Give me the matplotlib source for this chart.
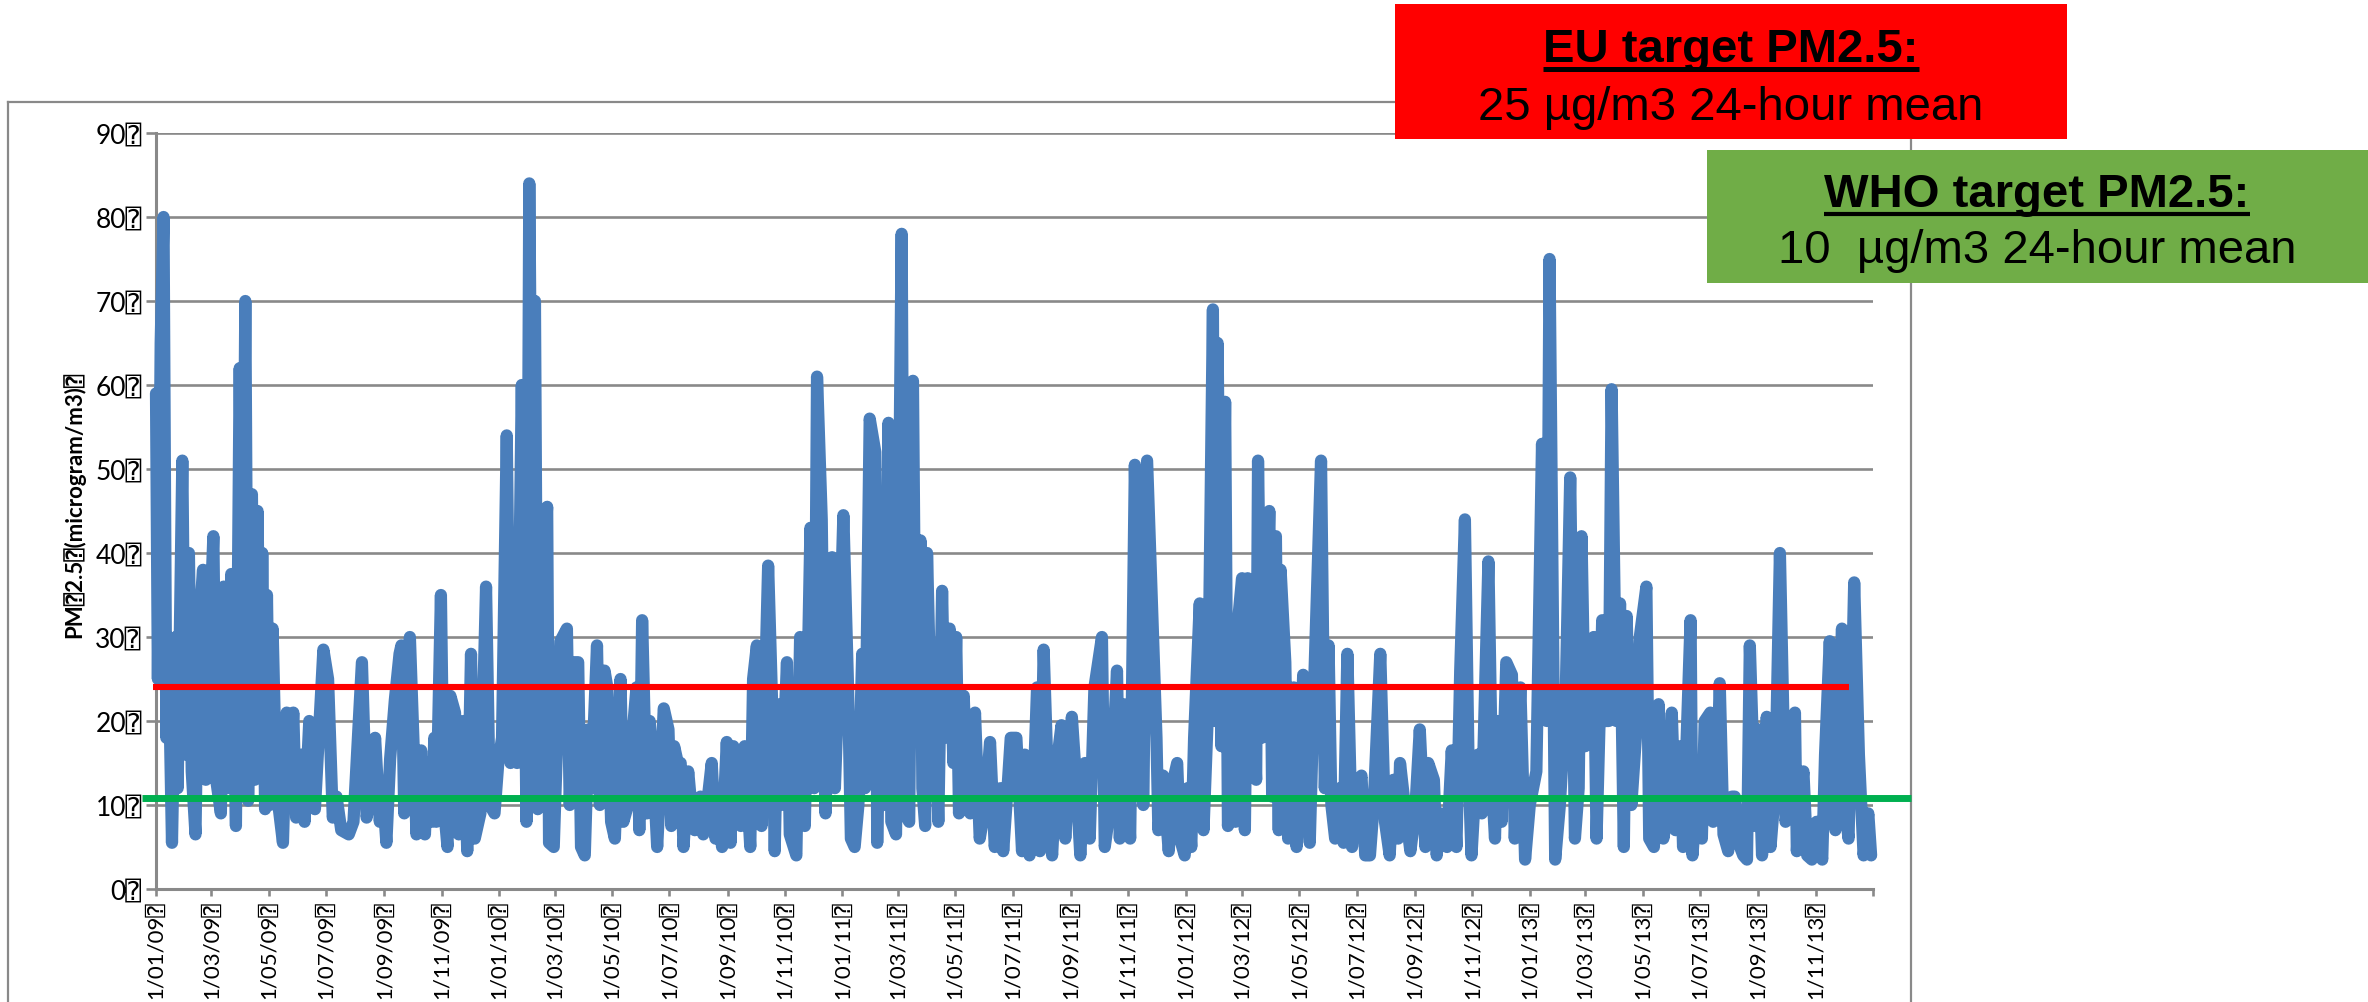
import numpy as np
import matplotlib
matplotlib.use("Agg")
import matplotlib.pyplot as plt
import matplotlib.dates as mdates
from matplotlib.lines import Line2D
from matplotlib.patches import Rectangle
from matplotlib.ticker import FuncFormatter
from matplotlib.transforms import blended_transform_factory

# box glyph that the original shows after every label
BOX = "\u2370"

# daily PM2.5 readings, day numbers counted from 1 Jan 2009
days_2009 = [0, 2, 5, 8, 11, 13, 17, 21, 23, 28, 31, 35, 38, 42, 45, 50, 53, 57, 61, 64,
             69, 72, 76, 80, 85, 89, 92, 95, 98, 102, 105, 108, 111, 113, 116, 118, 121, 124, 128, 135,
             139, 142, 146, 149, 155, 158, 163, 169, 178, 183, 188, 192, 197, 205, 210, 219, 224, 229, 233, 238,
             241, 245, 249, 254, 259, 261, 264, 270, 274, 277, 282, 286, 289, 293, 296, 298, 303, 306, 310, 313,
             318, 322, 327, 331, 335, 339, 345, 351, 355, 360, 364]
pm_2009 = [59, 25, 65, 80, 18, 30, 5.5, 30, 12, 51, 16, 40, 14, 6.5, 30, 38, 13, 30, 42, 13,
           9, 36, 12, 37.5, 7.5, 62, 25, 70, 10.5, 47, 13, 45, 15, 40, 9.5, 35, 10, 31, 12, 5.5,
           21, 12, 21, 8.5, 16, 8, 20, 9.5, 28.5, 25, 8.5, 11, 7, 6.5, 8, 27, 8.5, 12, 18, 8,
           12, 5.5, 15.5, 22.5, 28, 29, 9, 30, 17, 6.5, 16.5, 6.5, 15, 8, 18, 8, 35, 10, 5, 23,
           21, 6.5, 20, 4.5, 28, 6, 9, 36, 10, 9, 15]

days_2010 = [368, 373, 377, 380, 384, 389, 394, 397, 401, 403, 406, 410, 416, 418, 423, 430, 437, 440, 444, 449,
             452, 456, 460, 463, 469, 472, 477, 480, 484, 488, 494, 497, 502, 508, 511, 514, 517, 522, 525, 529,
             533, 540, 545, 548, 551, 555, 558, 561, 566, 570, 573, 579, 582, 586, 591, 595, 598, 602, 607, 611,
             614, 619, 622, 626, 632, 635, 639, 644, 651, 655, 658, 661, 665, 671, 674, 681, 685, 690, 696, 700,
             703, 708, 712, 719, 722, 726]
pm_2010 = [18, 54, 15, 38, 15, 60, 8, 84, 25, 70, 9.5, 35, 45.5, 5.5, 5, 29.5, 31, 10, 27, 27,
           5, 4, 19, 12, 29, 10, 26, 24, 8, 6, 25, 8, 10, 20, 24, 7, 32, 9, 20, 14,
           5, 21.5, 19, 7.5, 17, 15, 15, 5, 14, 9, 7, 11, 6.5, 10, 15, 6, 10, 5, 17.5, 5.5,
           17, 14, 7.5, 17, 5, 25, 29, 7.5, 38.5, 23, 4.5, 22, 10, 27, 6.5, 4, 30, 7.5, 43, 12,
           61, 44, 9, 39.5, 12, 25]

days_2011 = [731, 736, 739, 743, 747, 751, 754, 759, 765, 767, 770, 774, 779, 782, 787, 793, 796, 801, 805, 808,
             813, 815, 818, 820, 825, 828, 832, 836, 839, 844, 848, 851, 854, 859, 862, 866, 871, 876, 882, 887,
             892, 898, 901, 905, 909, 915, 921, 924, 929, 933, 937, 940, 944, 949, 953, 958, 963, 967, 974, 979,
             983, 988, 993, 998, 1006, 1009, 1015, 1022, 1025, 1029, 1036, 1041, 1045, 1050, 1054, 1064, 1066, 1071, 1077, 1082,
             1086, 1089, 1094]
pm_2011 = [44.5, 24, 6, 5, 10, 28, 12, 56, 52, 5.5, 31, 10, 55.5, 8, 6.5, 78, 9, 8, 60.5, 20,
           41.5, 12, 7.5, 40, 16, 24, 8, 35.5, 18, 31, 15, 30, 9, 23, 13, 9, 21, 6, 10, 17.5,
           5, 12, 4.5, 11, 18, 18, 4.5, 16, 4, 11, 24, 4.5, 28.5, 11, 4, 15, 19.5, 6, 20.5, 12,
           4, 15, 6, 24, 30, 5, 10, 26, 6, 22, 6, 50.5, 22, 10, 51, 18, 7, 13.5, 4.5, 13,
           15, 6, 4]

days_2012 = [1097, 1101, 1104, 1110, 1114, 1119, 1124, 1126, 1129, 1133, 1137, 1140, 1144, 1148, 1150, 1155, 1158, 1161, 1170, 1172,
             1176, 1179, 1184, 1187, 1191, 1194, 1196, 1201, 1204, 1210, 1213, 1216, 1220, 1224, 1227, 1231, 1239, 1243, 1247, 1250,
             1254, 1259, 1263, 1267, 1272, 1275, 1282, 1286, 1291, 1295, 1302, 1307, 1312, 1316, 1321, 1323, 1328, 1334, 1339, 1344,
             1350, 1353, 1359, 1362, 1366, 1373, 1378, 1383, 1387, 1392, 1396, 1399, 1403, 1406, 1410, 1417, 1421, 1424, 1427, 1431,
             1436, 1442, 1445, 1451, 1456]
pm_2012 = [12, 5, 18, 34, 7, 22, 69, 20, 65, 17, 58, 7.5, 14, 8, 31, 37, 7, 37, 13, 51,
           18, 24, 45, 11, 42, 7, 38, 27, 6, 24, 5, 12, 25.5, 13, 5.5, 22, 51, 12, 29, 10,
           6, 12, 5.5, 28, 5, 10, 13.5, 4, 4, 10, 28, 8, 4, 13, 6, 15, 10, 4.5, 9, 19,
           5, 15, 13, 4, 9, 5, 16.5, 5, 26, 44, 14, 4, 12, 16, 9, 39, 12, 6, 20, 8,
           27, 25.5, 6, 24, 3.5]

days_2013 = [1461, 1468, 1474, 1479, 1482, 1488, 1493, 1499, 1504, 1509, 1513, 1516, 1520, 1525, 1529, 1532, 1538, 1541, 1545, 1548,
             1553, 1557, 1561, 1564, 1569, 1575, 1578, 1585, 1588, 1593, 1598, 1603, 1609, 1612, 1616, 1621, 1624, 1632, 1634, 1639,
             1644, 1647, 1653, 1656, 1660, 1663, 1667, 1672, 1676, 1679, 1683, 1688, 1692, 1695, 1701, 1704, 1708, 1713, 1717, 1722,
             1727, 1733, 1738, 1743, 1745, 1748, 1752, 1756, 1761, 1766, 1772, 1775, 1780, 1786, 1793, 1796, 1800, 1806, 1811, 1816,
             1821, 1824]
pm_2013 = [10, 14, 53, 20, 75, 3.5, 10, 22, 49, 6, 12, 42, 17, 28, 30, 6, 32, 20, 20, 59.5,
           20, 34, 5, 32.5, 10, 20, 30, 36, 6, 5, 22, 6, 10, 21, 7, 17, 5, 32, 4, 12,
           6, 20, 21, 8, 12, 24.5, 6.5, 4.5, 11, 11, 5.5, 4, 3.5, 29, 7.5, 19, 4, 20.5, 5, 12,
           40, 8, 12, 21, 4.5, 10, 14, 4, 3.5, 8, 3.5, 16, 29.5, 7, 31, 10, 6, 36.5, 16, 4,
           9, 4]

# target lines as drawn on the chart
eu_level = 24.0
who_level = 10.8

eu_title = "EU target PM2.5:"
eu_text = "25 \u00b5g/m3 24-hour mean"
who_title = "WHO target PM2.5:"
who_text = "10  \u00b5g/m3 24-hour mean"
y_title = "PM" + BOX + "2.5" + BOX + "(microgram/m3)" + BOX

W, H = 2368, 1003
GRAY = "#898989"
AXFONT = ["Lato", "DejaVu Sans", "DejaVu Sans Mono"]
BOXFONT = ["Liberation Sans", "Arial", "DejaVu Sans"]

plt.rcParams["font.family"] = AXFONT

fig = plt.figure(figsize=(W / 100, H / 100), dpi=100)


def fx(px):
    return px / W


def fy(py):
    return 1 - py / H


# outer chart frame (bottom edge runs off the picture)
for xs, ys in [([8, 8], [1010, 103]), ([8, 1911], [103, 103]), ([1911, 1911], [103, 1010])]:
    fig.add_artist(Line2D([fx(x) for x in xs], [fy(y) for y in ys], transform=fig.transFigure,
                          color=GRAY, lw=1.6, zorder=0))

ax = fig.add_axes([fx(156), fy(890), fx(1873) - fx(156), fy(134) - fy(890)])
ax.set_facecolor("none")

start = np.datetime64("2009-01-01")
days = np.concatenate([days_2009, days_2010, days_2011, days_2012, days_2013]).astype(int)
pm = np.concatenate([pm_2009, pm_2010, pm_2011, pm_2012, pm_2013])
dates = start + days.astype("timedelta64[D]")

ax.plot(dates, pm, color="#4a7ebb", lw=8.8, solid_joinstyle="round",
        solid_capstyle="round", zorder=3, clip_on=False)

ax.set_xlim(np.datetime64("2009-01-01"), np.datetime64("2014-01-01"))
ax.set_ylim(0, 90)

# target lines (red stops a bit short, green runs to the frame)
tr = blended_transform_factory(ax.transAxes, ax.transData)
ax.plot([-0.002, 0.986], [eu_level, eu_level], color="#ff0000", lw=4.4,
        transform=tr, clip_on=False, zorder=4, solid_capstyle="butt")
ax.plot([-0.008, 1.0224], [who_level, who_level], color="#00b050", lw=5.0,
        transform=tr, clip_on=False, zorder=4, solid_capstyle="butt")

ax.set_yticks(range(0, 91, 10))
ax.set_yticklabels([f"{v}{BOX}" for v in range(0, 91, 10)])
ax.yaxis.grid(True, color=GRAY, lw=1.9)
ax.set_axisbelow(True)


def date_label(x, pos):
    d = mdates.num2date(x)
    if d.year > 2013:
        return ""
    return f"{d.day}/{d.month:02d}/{d.year % 100:02d}{BOX}"


ax.xaxis.set_major_locator(mdates.MonthLocator(bymonth=[1, 3, 5, 7, 9, 11]))
ax.xaxis.set_major_formatter(FuncFormatter(date_label))

ax.tick_params(axis="y", length=7.2, width=1.9, color=GRAY, pad=3, labelsize=19)
ax.tick_params(axis="x", length=5, width=1.9, color=GRAY, pad=3, labelsize=16,
               labelrotation=90)

for side in ["top", "right"]:
    ax.spines[side].set_visible(False)
for side in ["left", "bottom"]:
    ax.spines[side].set_color(GRAY)
    ax.spines[side].set_linewidth(2.2)

fig.text(fx(74), fy(505), y_title, rotation=90, ha="center", va="center",
         fontsize=16, fontweight="bold")

# target boxes at the top right
fig.add_artist(Rectangle((fx(1395), fy(140)), fx(2067) - fx(1395), fy(5) - fy(140),
                         transform=fig.transFigure, facecolor="#ff0000", edgecolor="none", zorder=5))
fig.add_artist(Rectangle((fx(1707), fy(284)), fx(2368) - fx(1707), fy(151) - fy(284),
                         transform=fig.transFigure, facecolor="#70ad47", edgecolor="none", zorder=5))

t1 = fig.text(fx(1731), fy(62), eu_title, ha="center", va="baseline", fontsize=34,
              fontweight="bold", family=BOXFONT, zorder=6)
fig.text(fx(1731), fy(120), eu_text, ha="center", va="baseline", fontsize=34,
         family=BOXFONT, zorder=6)
t2 = fig.text(fx(2037), fy(207), who_title, ha="center", va="baseline", fontsize=34,
              fontweight="bold", family=BOXFONT, zorder=6)
fig.text(fx(2037), fy(263), who_text, ha="center", va="baseline", fontsize=34,
         family=BOXFONT, zorder=6)

# underline the two box titles
fig.canvas.draw()
renderer = fig.canvas.get_renderer()
for t, uy, lw in [(t1, 69.5, 3.6), (t2, 215, 3.0)]:
    bb = t.get_window_extent(renderer)
    fig.add_artist(Line2D([bb.x0 / W, bb.x1 / W], [fy(uy), fy(uy)], transform=fig.transFigure,
                          color="black", lw=lw, zorder=7, solid_capstyle="butt"))

fig.savefig("out.png", dpi=100)
